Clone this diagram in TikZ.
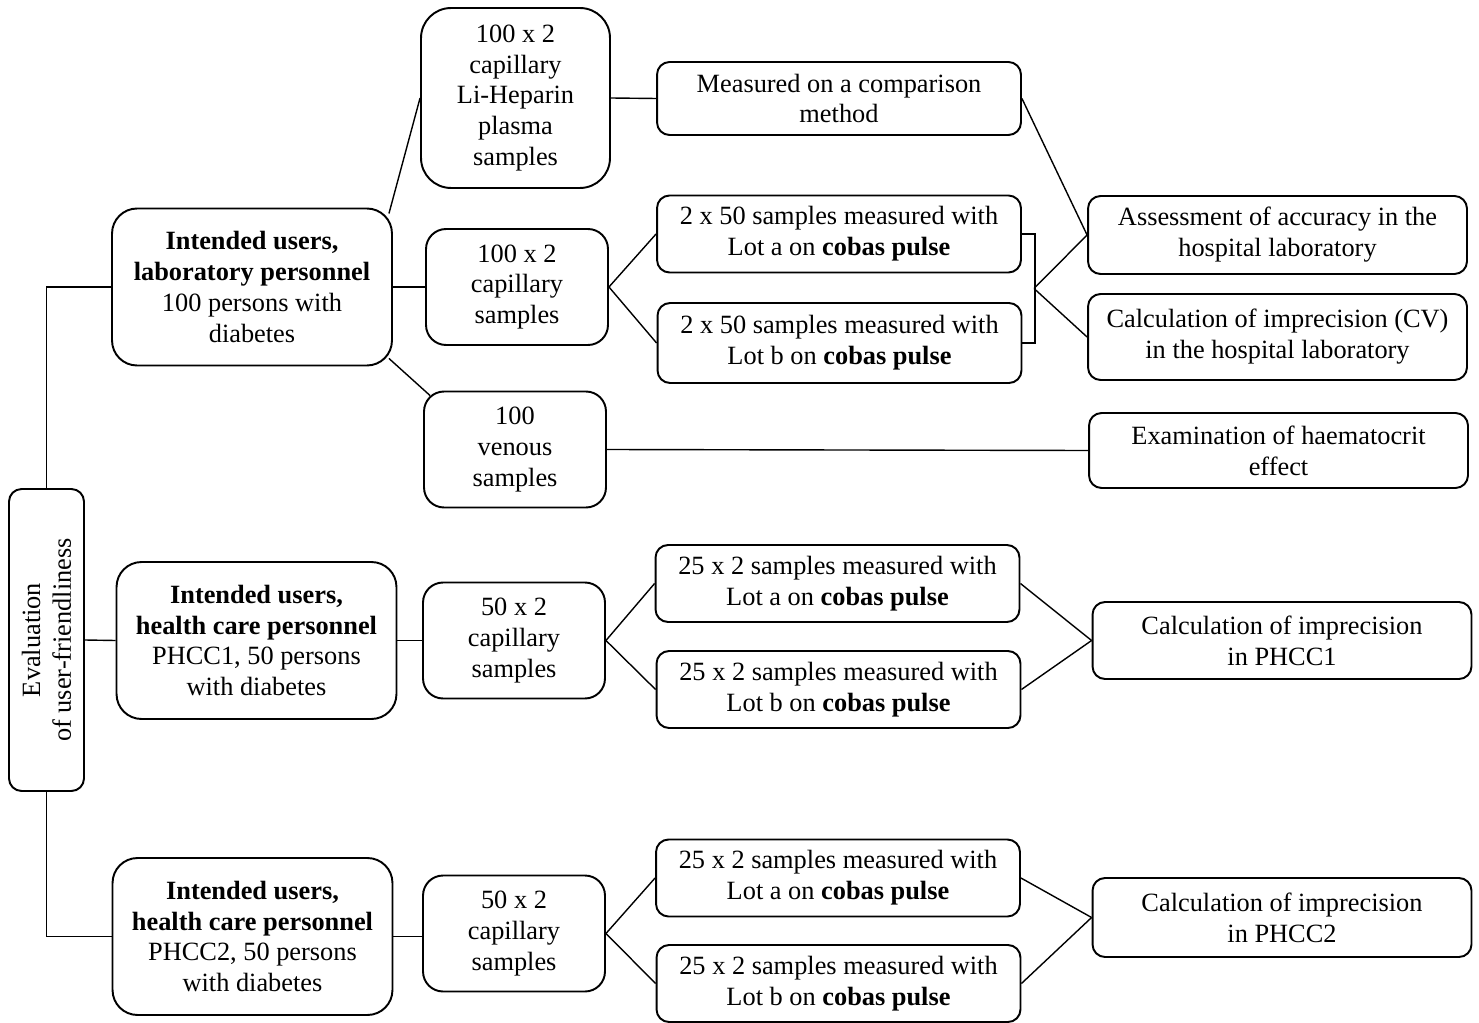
\documentclass[tikz,border=0pt]{standalone}
\usepackage{fontspec}
\setmainfont{Liberation Serif}
\usepackage{tikz}
\usetikzlibrary{calc}
\newcommand{\boxthick}{1.1pt}
\newcommand{\linethick}{0.8pt}
\tikzset{
  box/.style={draw, line width=\boxthick, align=center, inner sep=0pt,
    font=\fontsize{15}{17.6}\selectfont},
  grp/.style={box, minimum width=5.6cm, minimum height=3.14cm, rounded corners=0.5cm},
  smp/.style={box, minimum width=3.64cm, minimum height=2.32cm, rounded corners=0.4cm},
  msr/.style={box, minimum width=7.28cm, minimum height=1.54cm, rounded corners=0.25cm},
  res/.style={box, minimum width=7.58cm, minimum height=1.54cm, rounded corners=0.25cm},
  con/.style={line width=\linethick},
}

\begin{document}
\begin{tikzpicture}[x=0.02cm, y=-0.02cm]
\useasboundingbox (0,0) rectangle (1479,1023);
%left column
\node[box, rotate=90, minimum width=6.04cm, minimum height=1.5cm, rounded corners=0.25cm]
  (eval) at (46.5,640) {Evaluation\\of user-friendliness};
\node[grp] (lab) at (252,287) {\textbf{Intended users,}\\\textbf{laboratory personnel}\\100 persons with\\diabetes};
\node[grp] (grp1) at (256.5,640.5) {\textbf{Intended users,}\\\textbf{health care personnel}\\PHCC1, 50 persons\\with diabetes};
\node[grp] (grp2) at (252.5,936.5) {\textbf{Intended users,}\\\textbf{health care personnel}\\PHCC2, 50 persons\\with diabetes};
%samples
\node[smp, minimum width=3.78cm, minimum height=3.6cm, rounded corners=0.6cm] (li) at (515.5,98) {100 x 2\\capillary\\Li-Heparin\\plasma\\samples};
\node[smp] (cap) at (517,287) {100 x 2\\capillary\\samples};
\node[smp] (ven) at (515,449.5) {100\\venous\\samples};
\node[smp] (cap1) at (514,640.5) {50 x 2\\capillary\\samples};
\node[smp] (cap2) at (514,933.5) {50 x 2\\capillary\\samples};
%measurements
\node[msr, minimum height=1.46cm] (cmp) at (839,98.5) {Measured on a comparison\\method};
\node[msr] (lota) at (839,234) {2 x 50 samples measured with\\Lot a on \textbf{cobas pulse}};
\node[msr, minimum height=1.6cm] (lotb) at (839.5,343) {2 x 50 samples measured with\\Lot b on \textbf{cobas pulse}};
\node[msr] (p1a) at (837.5,583.5) {25 x 2 samples measured with\\Lot a on \textbf{cobas pulse}};
\node[msr] (p1b) at (838.5,689.5) {25 x 2 samples measured with\\Lot b on \textbf{cobas pulse}};
\node[msr] (p2a) at (838,878) {25 x 2 samples measured with\\Lot a on \textbf{cobas pulse}};
\node[msr] (p2b) at (838.5,983.5) {25 x 2 samples measured with\\Lot b on \textbf{cobas pulse}};
%results
\node[res, minimum height=1.56cm] (acc) at (1277.5,235) {Assessment of accuracy in the\\hospital laboratory};
\node[res, minimum height=1.72cm] (cv) at (1277.5,337) {Calculation of imprecision (CV)\\in the hospital laboratory};
\node[res, minimum height=1.5cm] (hct) at (1278.5,450.5) {Examination of haematocrit\\effect};
\node[res] (imp1) at (1282,640.5) {Calculation of imprecision\\in PHCC1};
\node[res, minimum height=1.58cm] (imp2) at (1282,917.5) {Calculation of imprecision\\in PHCC2};
%connectors
\draw[con] (eval.east) |- (lab.west);
\draw[con] (eval.south) -- (grp1.west);
\draw[con] (eval.west) |- (grp2.west);
\draw[con] ([shift={(-4,6)}]lab.north east) -- (li.west);
\draw[con] (lab.east) -- (cap.west);
\draw[con] ([shift={(-4,-8)}]lab.south east) -- ([shift={(7,5)}]ven.north west);
\draw[con] (grp1.east) -- (cap1.west);
\draw[con] (grp2.east) -- (grp2.east -| cap2.west);
\draw[con] (li.east) -- (cmp.west);
\draw[con] (cap.east) -- (lota.west);
\draw[con] (cap.east) -- (lotb.west);
\draw[con] (ven.east) -- (hct.west);
\draw[con] (cap1.east) -- (p1a.west);
\draw[con] (cap1.east) -- (p1b.west);
\draw[con] (cap2.east) -- (p2a.west);
\draw[con] (cap2.east) -- (p2b.west);
%bracket lot a / lot b
\draw[con] (lota.east) -- ++(13,0) |- (lotb.east);
\coordinate (brk) at (1034,288.5);
\draw[con] (brk) -- (acc.west);
\draw[con] (brk) -- (cv.west);
\draw[con] (cmp.east) -- (acc.west);
\draw[con] (p1a.east) -- (imp1.west);
\draw[con] (p1b.east) -- (imp1.west);
\draw[con] (p2a.east) -- (imp2.west);
\draw[con] (p2b.east) -- (imp2.west);
\end{tikzpicture}
\end{document}
